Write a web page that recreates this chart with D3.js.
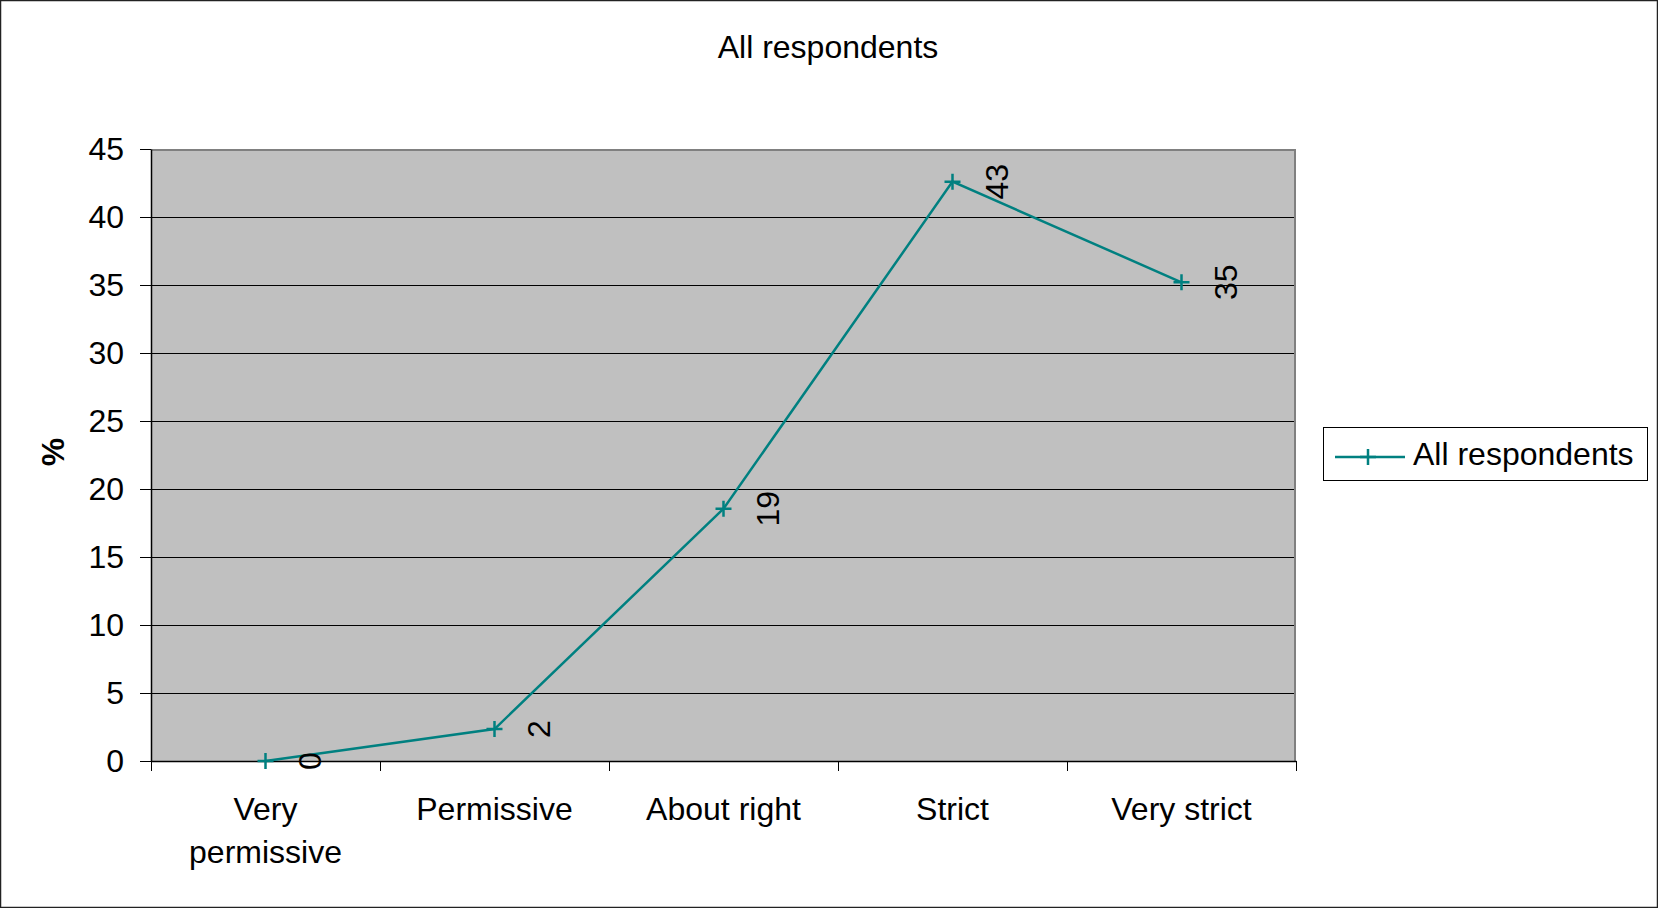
<!DOCTYPE html>
<html>
<head>
<meta charset="utf-8">
<script src="https://cdn.jsdelivr.net/npm/d3@7"></script>
<style>
  html, body { margin: 0; padding: 0; background: #fff; }
  svg { display: block; font-family: "Liberation Sans", Arial, sans-serif; }
</style>
</head>
<body>
<svg id="chart" width="1658" height="908"></svg>
<script>
const categories = [["Very", "permissive"], ["Permissive"], ["About right"], ["Strict"], ["Very strict"]];
const seriesName = "All respondents";
const values = [0, 2.35, 18.55, 42.6, 35.2];
const yTicks = [0, 5, 10, 15, 20, 25, 30, 35, 40, 45];

const WIDTH = 1658;
const HEIGHT = 908;
const PLOT = { left: 151, right: 1296, top: 149, bottom: 761 };
const LINE_COLOR = "#008080";
const FONT_SIZE = 32;

const svg = d3.select("#chart");

// outer frame
svg.append("rect")
  .attr("x", 0.5).attr("y", 0.5)
  .attr("width", WIDTH - 1).attr("height", HEIGHT - 1)
  .attr("fill", "#fff").attr("stroke", "#222").attr("stroke-width", 1.5);

const x = d3.scaleBand()
  .domain(d3.range(categories.length))
  .range([PLOT.left, PLOT.right]);

const y = d3.scaleLinear()
  .domain([0, 45])
  .range([PLOT.bottom, PLOT.top]);

// plot area
svg.append("rect")
  .attr("x", PLOT.left).attr("y", PLOT.top)
  .attr("width", PLOT.right - PLOT.left).attr("height", PLOT.bottom - PLOT.top)
  .attr("fill", "#c0c0c0");

// gridlines
svg.append("g")
  .selectAll("line")
  .data(yTicks.filter((t) => t > 0 && t < 45))
  .join("line")
  .attr("x1", PLOT.left).attr("x2", PLOT.right)
  .attr("y1", (d) => Math.round(y(d)) + 0.5).attr("y2", (d) => Math.round(y(d)) + 0.5)
  .attr("stroke", "#000").attr("stroke-width", 1);

// gray top / right edges of plot
svg.append("path")
  .attr("d", `M${PLOT.left},${PLOT.top + 1}H${PLOT.right - 1}V${PLOT.bottom}`)
  .attr("fill", "none").attr("stroke", "#808080").attr("stroke-width", 2);

// y axis
const yAxis = svg.append("g")
  .attr("transform", `translate(${PLOT.left},0)`)
  .call(d3.axisLeft(y).tickValues(yTicks).tickSize(11).tickPadding(16).tickSizeOuter(0));
yAxis.select(".domain").attr("stroke", "#000").attr("stroke-width", 1.5);
yAxis.selectAll(".tick line").attr("stroke", "#000");
yAxis.selectAll(".tick text")
  .attr("font-size", FONT_SIZE).attr("font-family", "Liberation Sans, Arial, sans-serif")
  .attr("fill", "#000");

// x axis
const xAxis = svg.append("g")
  .attr("transform", `translate(0,${PLOT.bottom})`)
  .call(d3.axisBottom(x).tickSize(0).tickFormat(""));
xAxis.select(".domain").attr("stroke", "#000").attr("stroke-width", 1.5);

// category boundary ticks
svg.append("g")
  .selectAll("line")
  .data(d3.range(categories.length + 1))
  .join("line")
  .attr("x1", (i) => Math.round(PLOT.left + i * x.step()) + 0.5)
  .attr("x2", (i) => Math.round(PLOT.left + i * x.step()) + 0.5)
  .attr("y1", PLOT.bottom).attr("y2", PLOT.bottom + 10)
  .attr("stroke", "#000");

// category labels
svg.append("g")
  .selectAll("text")
  .data(categories)
  .join("text")
  .attr("x", (d, i) => x(i) + x.bandwidth() / 2)
  .attr("y", 820)
  .attr("text-anchor", "middle")
  .attr("font-size", FONT_SIZE)
  .selectAll("tspan")
  .data((d) => d)
  .join("tspan")
  .attr("x", function () { return this.parentNode.getAttribute("x"); })
  .attr("dy", (d, i) => (i === 0 ? 0 : 43))
  .text((d) => d);

// y axis title
svg.append("text")
  .attr("transform", "translate(53,452) rotate(-90)")
  .attr("text-anchor", "middle")
  .attr("dy", "0.35em")
  .attr("font-size", FONT_SIZE)
  .attr("font-weight", "bold")
  .text("%");

// chart title
svg.append("text")
  .attr("x", 828).attr("y", 58)
  .attr("text-anchor", "middle")
  .attr("font-size", FONT_SIZE)
  .text(seriesName);

// series line
const cx = (i) => x(i) + x.bandwidth() / 2;
const line = d3.line().x((d, i) => cx(i)).y((d) => y(d));
svg.append("path")
  .datum(values)
  .attr("d", line)
  .attr("fill", "none")
  .attr("stroke", LINE_COLOR)
  .attr("stroke-width", 2.5);

// plus markers
const plus = (px, py, r) => `M${px - r},${py}H${px + r}M${px},${py - r}V${py + r}`;
svg.append("g")
  .selectAll("path")
  .data(values)
  .join("path")
  .attr("d", (d, i) => plus(cx(i), y(d), 8))
  .attr("stroke", LINE_COLOR)
  .attr("stroke-width", 2.5);

// data labels
svg.append("g")
  .selectAll("text")
  .data(values)
  .join("text")
  .attr("transform", (d, i) => `translate(${cx(i) + 44},${y(d)}) rotate(-90)`)
  .attr("text-anchor", "middle")
  .attr("dy", "0.35em")
  .attr("font-size", FONT_SIZE)
  .text((d) => d3.format(".0f")(d));

// legend
const legend = svg.append("g");
legend.append("rect")
  .attr("x", 1323.5).attr("y", 427.5)
  .attr("width", 324).attr("height", 53)
  .attr("fill", "#fff").attr("stroke", "#000").attr("stroke-width", 1);
legend.append("line")
  .attr("x1", 1335).attr("x2", 1405).attr("y1", 457).attr("y2", 457)
  .attr("stroke", LINE_COLOR).attr("stroke-width", 2.5);
legend.append("path")
  .attr("d", plus(1368, 457, 8))
  .attr("stroke", LINE_COLOR).attr("stroke-width", 2.5);
legend.append("text")
  .attr("x", 1413).attr("y", 465)
  .attr("font-size", FONT_SIZE)
  .text(seriesName);
</script>
</body>
</html>
